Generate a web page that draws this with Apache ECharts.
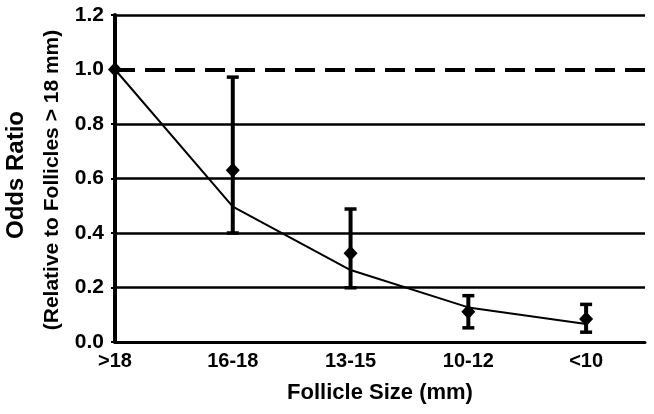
<!DOCTYPE html>
<html>
<head>
<meta charset="utf-8">
<script src="https://cdn.jsdelivr.net/npm/echarts@6/dist/echarts.min.js"></script>
<style>
html,body{margin:0;padding:0;background:#fff;}
#chart{width:654px;height:414px;}
</style>
</head>
<body>
<div id="chart"></div>
<script>
// ---- data ----
const categories = ['>18', '16-18', '13-15', '10-12', '<10'];
const oddsRatio = [1.0, 0.63, 0.326, 0.111, 0.084];
const ciLower = [null, 0.40, 0.199, 0.052, 0.036];
const ciUpper = [null, 0.972, 0.488, 0.170, 0.138];
const fitLine = [1.0, 0.497, 0.264, 0.127, 0.066];
const yTicks = [0, 0.2, 0.4, 0.6, 0.8, 1.0, 1.2];
const referenceValue = 1.0;

const FONT = '"Liberation Sans", Arial, sans-serif';

const chart = echarts.init(document.getElementById('chart'), null, {renderer: 'canvas'});

const pointData = oddsRatio.map((v, i) => [i, v]);
const lineData = fitLine.map((v, i) => [i, v]);
const errData = categories.map((c, i) => [i, ciLower[i], ciUpper[i]]).filter(d => d[1] != null);

const option = {
  backgroundColor: '#fff',
  animation: false,
  grid: {left: 115, right: 9, top: 15, bottom: 72, containLabel: false},
  xAxis: {
    type: 'value',
    min: 0,
    max: 4.5,
    interval: 1,
    axisLine: {show: true, onZero: false, lineStyle: {color: '#000', width: 3}},
    axisTick: {show: false},
    splitLine: {show: false},
    axisLabel: {
      color: '#000', fontFamily: FONT, fontWeight: 'bold', fontSize: 20, margin: 9,
      showMaxLabel: false,
      formatter: v => (Number.isInteger(v) && categories[v] !== undefined) ? categories[v] : ''
    },
    name: 'Follicle Size (mm)',
    nameLocation: 'middle',
    nameGap: 40,
    nameTextStyle: {color: '#000', fontFamily: FONT, fontWeight: 'bold', fontSize: 22}
  },
  yAxis: {
    type: 'value',
    min: yTicks[0],
    max: yTicks[yTicks.length - 1],
    interval: 0.2,
    axisLine: {show: true, lineStyle: {color: '#000', width: 4}},
    axisTick: {show: true, length: 4, lineStyle: {color: '#000', width: 2}},
    axisLabel: {
      color: '#000', fontFamily: FONT, fontWeight: 'bold', fontSize: 21, margin: 11,
      formatter: v => v.toFixed(1)
    },
    splitLine: {
      show: true,
      lineStyle: {
        width: 2.5,
        color: yTicks.map(t => Math.abs(t - referenceValue) < 1e-9 ? 'rgba(0,0,0,0)' : '#000')
      }
    }
  },
  series: [
    {
      type: 'line',
      data: lineData,
      smooth: false,
      showSymbol: false,
      symbol: 'none',
      lineStyle: {color: '#000', width: 2},
      z: 3,
      markLine: {
        silent: true,
        symbol: 'none',
        label: {show: false},
        lineStyle: {color: '#000', width: 4, type: [20, 10]},
        data: [{yAxis: referenceValue}]
      }
    },
    {
      type: 'custom',
      data: errData,
      z: 4,
      renderItem: function (params, api) {
        const x = api.value(0);
        const lo = api.coord([x, api.value(1)]);
        const hi = api.coord([x, api.value(2)]);
        const cap = 6;
        const style = {stroke: '#000', lineWidth: 4, fill: null};
        return {
          type: 'group',
          children: [
            {type: 'line', shape: {x1: lo[0], y1: lo[1], x2: hi[0], y2: hi[1]}, style: style},
            {type: 'line', shape: {x1: lo[0] - cap, y1: lo[1], x2: lo[0] + cap, y2: lo[1]}, style: {stroke: '#000', lineWidth: 3.5}},
            {type: 'line', shape: {x1: hi[0] - cap, y1: hi[1], x2: hi[0] + cap, y2: hi[1]}, style: {stroke: '#000', lineWidth: 3.5}}
          ]
        };
      }
    },
    {
      type: 'scatter',
      data: pointData,
      symbol: 'diamond',
      symbolSize: [14, 15],
      itemStyle: {color: '#000', opacity: 1},
      z: 5
    }
  ],
  graphic: [
    {
      type: 'text',
      x: 16, y: 175,
      rotation: Math.PI / 2,
      style: {
        text: 'Odds Ratio',
        font: 'bold 24px ' + FONT,
        fill: '#000',
        textAlign: 'center',
        textVerticalAlign: 'middle'
      }
    },
    {
      type: 'text',
      x: 52, y: 180,
      rotation: Math.PI / 2,
      style: {
        text: '(Relative to Follicles > 18 mm)',
        font: 'bold 21px ' + FONT,
        fill: '#000',
        textAlign: 'center',
        textVerticalAlign: 'middle'
      }
    }
  ]
};
chart.setOption(option);
</script>
</body>
</html>
